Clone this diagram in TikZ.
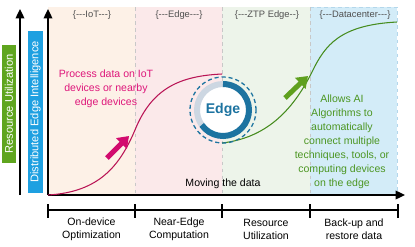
\documentclass[tikz,border=0pt]{standalone}
\usepackage{fontspec}
\setmainfont{Liberation Sans}
\usepackage{tikz}
\usetikzlibrary{arrows.meta}
\usetikzlibrary{calc}
\definecolor{iotbg}{RGB}{253,241,231}
\definecolor{edgebg}{RGB}{251,233,234}
\definecolor{ztpbg}{RGB}{237,244,234}
\definecolor{dcbg}{RGB}{211,236,248}
\definecolor{dcline}{RGB}{180,215,235}
\definecolor{sepgray}{RGB}{200,200,200}
\definecolor{labelgray}{RGB}{80,80,80}
\definecolor{magcurve}{RGB}{185,20,85}
\definecolor{magtext}{RGB}{222,22,122}
\definecolor{magarrow}{RGB}{210,10,110}
\definecolor{grncurve}{RGB}{70,140,30}
\definecolor{grntext}{RGB}{76,150,34}
\definecolor{grnarrow}{RGB}{95,160,30}
\definecolor{rugreen}{RGB}{95,165,30}
\definecolor{deblue}{RGB}{30,160,225}
\definecolor{ringblue}{RGB}{28,115,160}
\definecolor{ringgray}{RGB}{205,215,226}
\newcommand{\dashes}{-\kern0pt-\kern0pt-}
\newcommand{\blockarrow}{\draw[line width=1.5mm, -{Triangle[length=3.2mm,width=4.4mm]}]}

\begin{document}
\begin{tikzpicture}[x=0.03cm, y=-0.03cm,
    axis/.style={line width=1.1pt, -{Triangle[length=2.8mm,width=2.6mm]}},
    toplabel/.style={font=\fontsize{8}{10}\selectfont, text=labelgray},
    bottomlabel/.style={font=\fontsize{9}{11}\selectfont, align=center},
    sidebox/.style={rotate=90, text=white, font=\fontsize{9.5}{11}\selectfont, inner sep=0pt, minimum height=0.43cm},
    note/.style={font=\fontsize{9}{12}\selectfont, align=center}]
    \useasboundingbox (0,0) rectangle (415,246);

    % Draw bands
    \fill[iotbg] (48,7) rectangle (135,195);
    \fill[edgebg] (135,7) rectangle (222,195);
    \fill[ztpbg] (222,7) rectangle (310,195);
    \fill[dcbg] (310,7) rectangle (397,195);
    \draw[dcline, dashed] (310,7) -- (397,7) -- (397,195);
    \foreach \x in {135,222,310} {
        \draw[sepgray, dashed, line width=0.8pt] (\x,7) -- (\x,195);
    }

    \node[toplabel] (iot) at (92,15) {\{\dashes IoT\dashes\}};
    \node[toplabel] (edgetop) at (179,15) {\{\dashes Edge\dashes\}};
    \node[toplabel] (ztp) at (267,15) {\{\dashes ZTP Edge-\kern0pt-\}};
    \node[toplabel] (dc) at (355,15) {\{\dashes Datacenter\dashes\}};

    % Draw axes
    \coordinate (origin) at (48,195);
    \coordinate (ytop) at (48,9);
    \coordinate (xend) at (405,195);
    \coordinate (rubot) at (20,195);
    \coordinate (rutop) at (20,9);
    \draw[axis] (origin) -- (ytop);
    \draw[axis] (origin) -- (xend);
    \draw[axis] (rubot) -- (rutop);

    \node[sidebox, fill=rugreen, minimum width=3.54cm] (ru) at (9,104) {Resource Utilization};
    \node[sidebox, fill=deblue, minimum width=4.86cm] (dei) at (35.5,112) {Distributed Edge Intelligence};

    % Draw curves
    \coordinate (m0) at (48,195);
    \coordinate (m1) at (135,130);
    \coordinate (m2) at (222,74);
    \draw[magcurve, line width=0.9pt] (m0) .. controls (100,192) and (120,165) .. (m1)
        .. controls (152,88) and (180,76) .. (m2);
    \coordinate (g0) at (222,143);
    \coordinate (g1) at (312,72);
    \coordinate (g2) at (397,22);
    \draw[grncurve, line width=0.9pt] (g0) .. controls (265,138) and (292,112) .. (g1)
        .. controls (325,45) and (340,25) .. (g2);

    % Draw edge badge
    \coordinate (edgec) at (223,110);
    \fill[white] (edgec) circle[radius=0.72cm];
    \draw[ringgray, line width=0.18cm] ($(edgec)+(90:0.78cm)$) arc[start angle=90, end angle=215, radius=0.78cm];
    \draw[ringblue, line width=0.18cm] ($(edgec)+(215:0.78cm)$) arc[start angle=215, end angle=450, radius=0.78cm];
    \draw[ringblue, line width=1.1pt, dash pattern=on 3.5pt off 2.5pt] (edgec) circle[radius=0.99cm];
    \node[font=\bfseries\fontsize{12}{14}\selectfont, text=ringblue] (edge) at (edgec) {Edge};

    % Draw block arrows
    \coordinate (ma0) at (107,158);
    \coordinate (ma1) at (129,136);
    \coordinate (ga0) at (285,98);
    \coordinate (ga1) at (308,76);
    \blockarrow[magarrow] (ma0) -- (ma1);
    \blockarrow[grnarrow] (ga0) -- (ga1);

    \node[note, text=magtext] (process) at (106,89) {Process data on IoT\\devices or nearby\\edge devices};
    \node[note, text=grntext] (allows) at (342,141.5) {Allows AI\\Algorithms to\\automatically\\connect multiple\\techniques, tools, or\\computing devices\\on the edge};
    \node[font=\fontsize{9}{11}\selectfont] (moving) at (223,184) {Moving the data};

    % Draw phases
    \coordinate (b0) at (48,210);
    \coordinate (b4) at (398,210);
    \draw[line width=0.9pt] (b0) -- (b4);
    \foreach \x in {48,135,222,310,398} {
        \draw[line width=0.9pt] (\x,204) -- (\x,218);
    }
    \node[bottomlabel] (ondev) at (91.5,229) {On-device\\Optimization};
    \node[bottomlabel] (near) at (179,229) {Near-Edge\\Computation};
    \node[bottomlabel] (resu) at (266,229) {Resource\\Utilization};
    \node[bottomlabel] (backup) at (354,229) {Back-up and\\restore data};
\end{tikzpicture}
\end{document}
